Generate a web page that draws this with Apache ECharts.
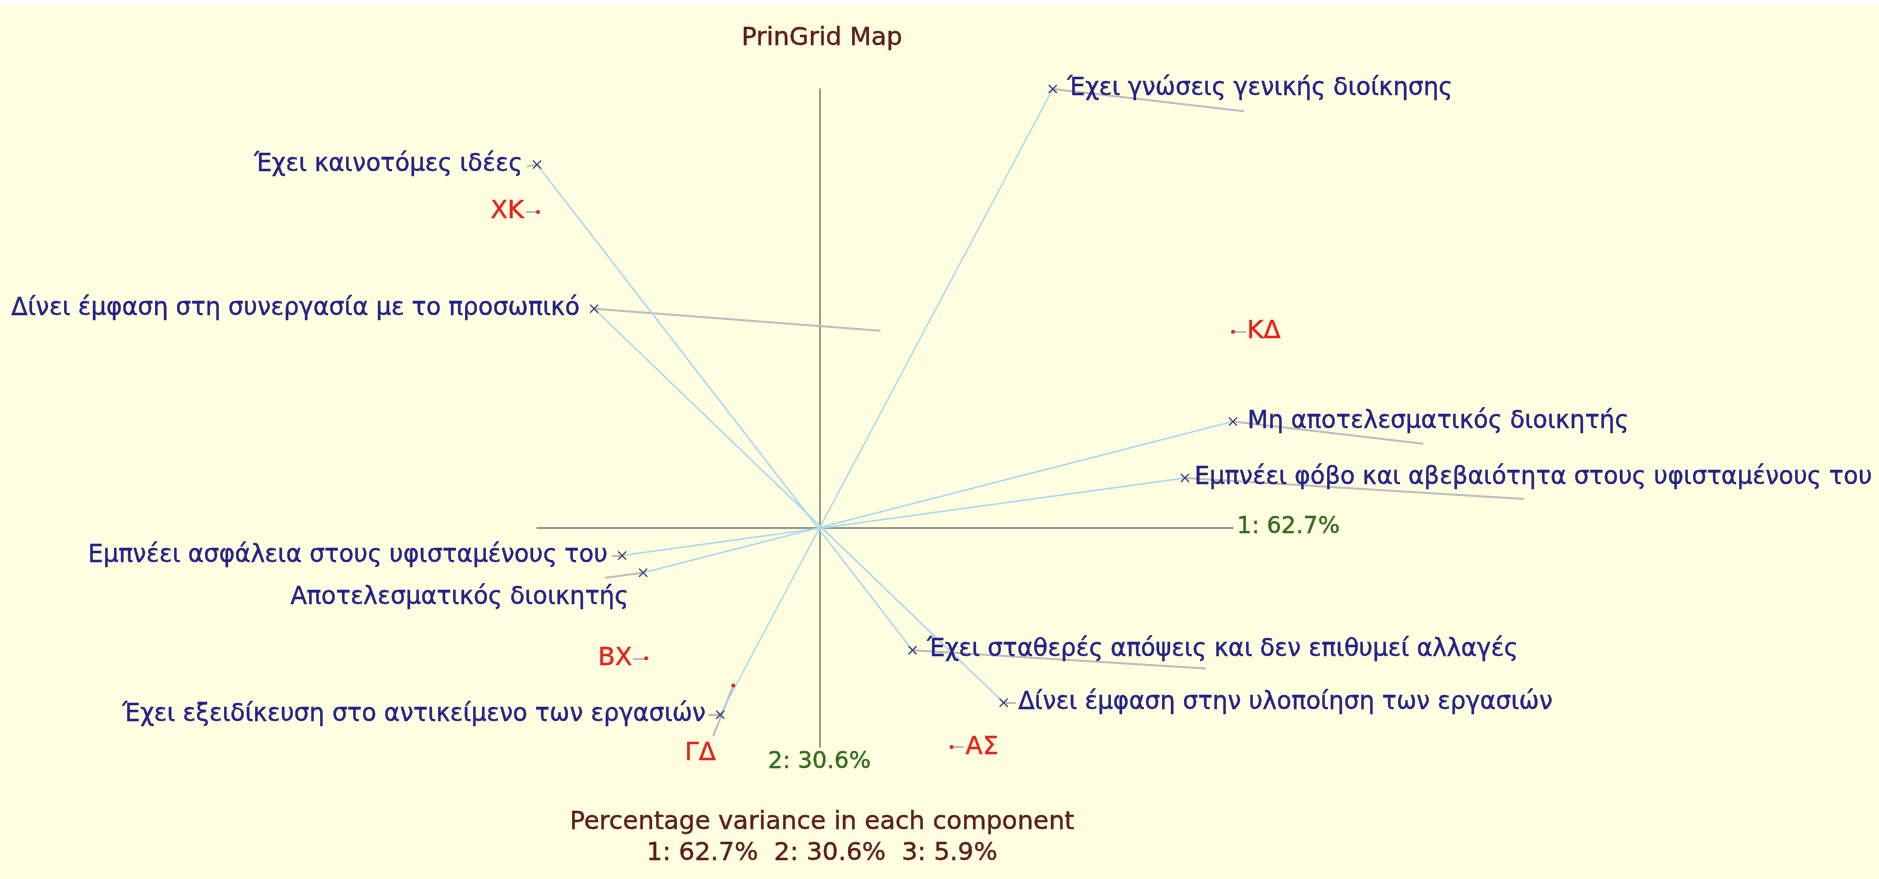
<!DOCTYPE html>
<html>
<head>
<meta charset="utf-8">
<title>PrinGrid Map</title>
<script src="https://cdn.jsdelivr.net/npm/echarts@6/dist/echarts.min.js"></script>
<style>
html, body { margin: 0; padding: 0; background: #fff; }
#chart { position: absolute; left: 0; top: 5px; width: 1879px; height: 874px; }
</style>
</head>
<body>
<div id="chart"></div>
<script>
// construct poles, component 1 and 2 scores; pole A[i] is opposite pole B[i]
var poleA = ['Έχει γνώσεις γενικής διοίκησης', 'Έχει καινοτόμες ιδέες', 'Δίνει έμφαση στη συνεργασία με το προσωπικό', 'Εμπνέει ασφάλεια στους υφισταμένους του', 'Αποτελεσματικός διοικητής'];
var poleAx = [2.33, -2.82, -2.25, -1.97, -1.76];
var poleAy = [4.35, 3.60, 2.17, -0.28, -0.45];
var poleB = ['Έχει εξειδίκευση στο αντικείμενο των εργασιών', 'Έχει σταθερές απόψεις και δεν επιθυμεί αλλαγές', 'Δίνει έμφαση στην υλοποίηση των εργασιών', 'Εμπνέει φόβο και αβεβαιότητα στους υφισταμένους του', 'Μη αποτελεσματικός διοικητής'];
var poleBx = [-0.99, 0.93, 1.84, 3.65, 4.13];
var poleBy = [-1.86, -1.22, -1.74, 0.49, 1.05];

// third component, drawn as grey tails
var poleA3x = [1.91, -0.10, 2.86, -0.10, -0.38];
var poleA3y = [-0.22, -0.02, -0.22, 0, -0.05];
var poleB3x = [-0.12, 2.93, 0.12, 3.39, 1.90];
var poleB3y = [0, -0.18, 0, -0.21, -0.22];

// elements
var elements = ['ΧΚ', 'ΚΔ', 'ΒΧ', 'ΓΔ', 'ΑΣ'];
var elemX = [-2.81, 4.13, -1.73, -0.86, 1.32];
var elemY = [3.13, 1.94, -1.30, -1.57, -2.18];
var elem3x = [-0.12, 0.13, -0.13, -0.20, 0.12];
var elem3y = [0, 0, 0, -0.50, 0];

var variance = [62.7, 30.6, 5.9];

var FONT = 'DejaVu Sans';
var crossPath = 'path://M1,0L5,4L9,0L10,1L6,5L10,9L9,10L5,6L1,10L0,9L4,5L0,1Z';

// labels that sit away from their point
var movedLabel = {
    'Αποτελεσματικός διοικητής': { position: 'left', offset: [0, 25] },
    'ΓΔ': { position: 'inside', offset: [-33, 68] }
};

function pointItem(name, x, y, dist) {
    var label = movedLabel[name] || { position: x < 0 ? 'left' : 'right' };
    label.distance = dist;
    return { name: name, value: [x, y], label: label };
}

var constructs = [], blueLines = [], tails = [];
for (var i = 0; i < poleA.length; i++) {
    constructs.push(pointItem(poleA[i], poleAx[i], poleAy[i], 10));
    constructs.push(pointItem(poleB[i], poleBx[i], poleBy[i], poleB[i].indexOf('φόβο') > 0 ? 5 : 10));
    blueLines.push({ coords: [[poleAx[i], poleAy[i]], [poleBx[i], poleBy[i]]] });
    tails.push({ coords: [[poleAx[i], poleAy[i]], [poleAx[i] + poleA3x[i], poleAy[i] + poleA3y[i]]] });
    tails.push({ coords: [[poleBx[i], poleBy[i]], [poleBx[i] + poleB3x[i], poleBy[i] + poleB3y[i]]] });
}
var elemData = [];
for (var j = 0; j < elements.length; j++) {
    elemData.push(pointItem(elements[j], elemX[j], elemY[j], 12));
    tails.push({ coords: [[elemX[j], elemY[j]], [elemX[j] + elem3x[j], elemY[j] + elem3y[j]]] });
}

var allX = poleAx.concat(poleBx, elemX);
var allY = poleAy.concat(poleBy, elemY);

var axisStyle = { color: '#7a7a7a', width: 1.5 };
var nameStyle = { color: '#336b1e', fontSize: 23, fontFamily: FONT, textBorderColor: '#336b1e', textBorderWidth: 0.4 };

var option = {
    backgroundColor: '#fffee1',
    animation: false,
    title: [{
        text: 'PrinGrid Map',
        left: 817,
        top: 16,
        textAlign: 'center',
        textStyle: { color: '#5a1a1a', fontSize: 25, fontWeight: 'normal', fontFamily: FONT, textBorderColor: '#5a1a1a', textBorderWidth: 0.4 }
    }, {
        text: 'Percentage variance in each component\n' +
            variance.map(function (v, k) { return (k + 1) + ': ' + v.toFixed(1) + '%'; }).join('  '),
        left: 817,
        top: 797,
        textAlign: 'center',
        textStyle: { color: '#5a1a1a', fontSize: 25, fontWeight: 'normal', fontFamily: FONT, lineHeight: 31, textBorderColor: '#5a1a1a', textBorderWidth: 0.4 }
    }],
    grid: { left: 537, right: 646, top: 84, bottom: 132 },
    xAxis: {
        type: 'value',
        min: Math.min.apply(null, allX),
        max: Math.max.apply(null, allX),
        name: '1: ' + variance[0].toFixed(1) + '%',
        nameLocation: 'end',
        nameGap: 4,
        nameTextStyle: nameStyle,
        axisLine: { onZero: true, lineStyle: axisStyle },
        axisTick: { show: false },
        axisLabel: { show: false },
        splitLine: { show: false }
    },
    yAxis: {
        type: 'value',
        min: Math.min.apply(null, allY),
        max: Math.max.apply(null, allY),
        name: '2: ' + variance[1].toFixed(1) + '%',
        nameLocation: 'start',
        nameGap: 4,
        nameTextStyle: nameStyle,
        axisLine: { onZero: true, lineStyle: axisStyle },
        axisTick: { show: false },
        axisLabel: { show: false },
        splitLine: { show: false }
    },
    series: [{
        type: 'lines',
        coordinateSystem: 'cartesian2d',
        clip: false,
        z: 1,
        lineStyle: { color: '#bdbdbd', width: 2, opacity: 1 },
        data: tails
    }, {
        type: 'lines',
        coordinateSystem: 'cartesian2d',
        clip: false,
        z: 3,
        lineStyle: { color: '#a6d9f0', width: 1.5, opacity: 1 },
        data: blueLines
    }, {
        type: 'scatter',
        clip: false,
        z: 4,
        symbol: crossPath,
        symbolSize: 9,
        itemStyle: { color: '#3b3b80', opacity: 1 },
        label: {
            show: true,
            formatter: '{b}',
            color: '#1f1f86',
            fontSize: 24,
            fontFamily: FONT,
            textBorderColor: '#1f1f86',
            textBorderWidth: 0.4
        },
        emphasis: { disabled: true },
        data: constructs
    }, {
        type: 'scatter',
        clip: false,
        z: 4,
        symbol: 'circle',
        symbolSize: 4,
        itemStyle: { color: '#e3231b', opacity: 1 },
        label: {
            show: true,
            formatter: '{b}',
            color: '#e3231b',
            fontSize: 25,
            fontFamily: FONT,
            textBorderColor: '#e3231b',
            textBorderWidth: 0.4
        },
        emphasis: { disabled: true },
        data: elemData
    }]
};

var myChart = echarts.init(document.getElementById('chart'));
myChart.setOption(option);
</script>
</body>
</html>
